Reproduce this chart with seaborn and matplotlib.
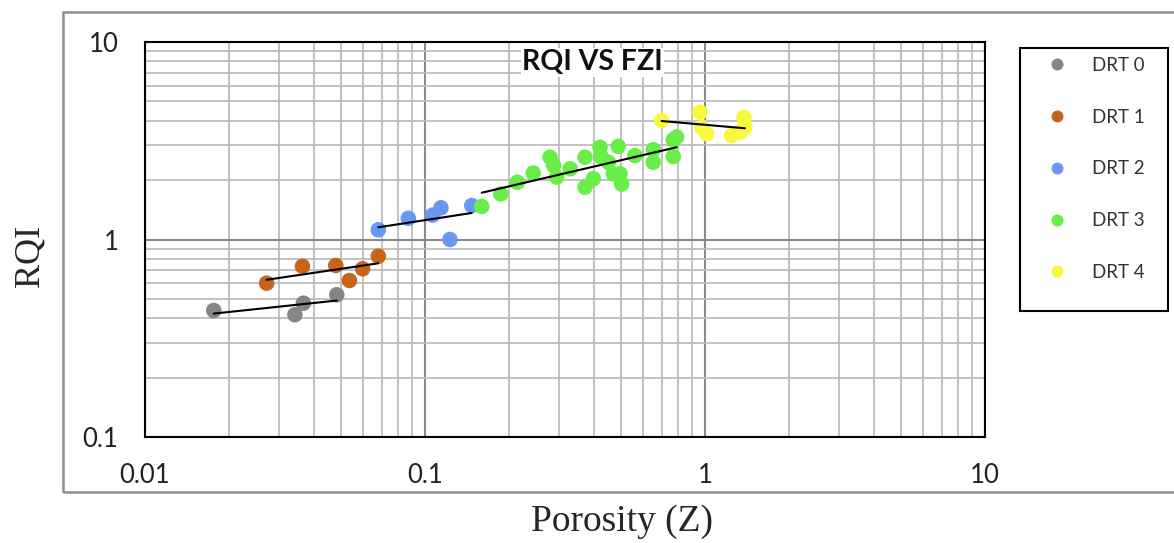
import matplotlib
matplotlib.use("Agg")
import matplotlib.pyplot as plt
from matplotlib.lines import Line2D
from matplotlib.patches import Rectangle
import matplotlib.ticker as mticker
import numpy as np
import pandas as pd
import seaborn as sns

# dados (Z, RQI) por grupo DRT
drt0_z = [0.0176, 0.0343, 0.0368, 0.0484]
drt0_rqi = [0.437, 0.416, 0.476, 0.525]

drt1_z = [0.0272, 0.0365, 0.048, 0.0537, 0.0599, 0.0681]
drt1_rqi = [0.601, 0.732, 0.739, 0.62, 0.711, 0.823]

drt2_z = [0.0681, 0.0872, 0.1065, 0.114, 0.1228, 0.1469]
drt2_rqi = [1.12, 1.28, 1.33, 1.447, 1.0, 1.486]

drt3_z = [0.1594, 0.1864, 0.2136, 0.2436, 0.2795, 0.288, 0.2954, 0.33,
          0.3727, 0.3727, 0.399, 0.4217, 0.425, 0.4515, 0.4706, 0.49,
          0.497, 0.504, 0.562, 0.6536, 0.6536, 0.77, 0.792, 0.77]
drt3_rqi = [1.47, 1.70, 1.95, 2.17, 2.61, 2.37, 2.07, 2.28,
            2.61, 1.84, 2.03, 2.93, 2.63, 2.46, 2.15, 2.96,
            2.15, 1.91, 2.66, 2.85, 2.46, 2.63, 3.30, 3.20]

drt4_z = [0.700, 0.96, 0.973, 1.014, 1.245, 1.334, 1.377, 1.388]
drt4_rqi = [4.0, 4.41, 3.70, 3.43, 3.36, 3.49, 4.16, 3.70]

grupos = ['DRT 0', 'DRT 1', 'DRT 2', 'DRT 3', 'DRT 4']
cores = ['#858585', '#C6641C', '#6A97F2', '#69EE47', '#F8F83E']

series = [(drt0_z, drt0_rqi), (drt1_z, drt1_rqi), (drt2_z, drt2_rqi),
          (drt3_z, drt3_rqi), (drt4_z, drt4_rqi)]

linhas = []
for g, (z, r) in zip(grupos, series):
    for zi, ri in zip(z, r):
        linhas.append({'DRT': g, 'Z': zi, 'RQI': ri})
df = pd.DataFrame(linhas)

sns.set_theme(style='white')
plt.rcParams['font.family'] = ['Lato', 'DejaVu Sans']

fig = plt.figure(figsize=(11.74, 5.43), dpi=100)
ax = fig.add_axes([145/1174, 1-437/543, 840/1174, 395/543])

ax.set_xscale('log')
ax.set_yscale('log')
ax.set_xlim(0.01, 10)
ax.set_ylim(0.1, 10)

# grade estilo excel
ax.xaxis.set_minor_locator(mticker.LogLocator(base=10, subs=np.arange(2, 10)))
ax.yaxis.set_minor_locator(mticker.LogLocator(base=10, subs=np.arange(2, 10)))
ax.xaxis.set_minor_formatter(mticker.NullFormatter())
ax.yaxis.set_minor_formatter(mticker.NullFormatter())
ax.grid(which='minor', color='#bdbdbd', lw=1.3)
ax.grid(which='major', color='#8a8a8a', lw=1.5)
ax.set_axisbelow(True)

sns.scatterplot(data=df, x='Z', y='RQI', hue='DRT', palette=dict(zip(grupos, cores)),
                s=125, linewidth=0, alpha=1, legend=False, ax=ax, zorder=3)

# linhas de tendencia (potencia)
for z, r in series:
    lz, lr = np.log10(z), np.log10(r)
    b, a = np.polyfit(lz, lr, 1)
    xs = np.array([min(lz), max(lz)])
    ax.plot(10**xs, 10**(a + b*xs), color='black', lw=1.5, zorder=4)

ax.xaxis.set_major_formatter(mticker.FuncFormatter(lambda v, p: f'{v:g}'))
ax.yaxis.set_major_formatter(mticker.FuncFormatter(lambda v, p: f'{v:g}'))
ax.tick_params(axis='both', which='both', length=0, labelsize=18.5, colors='#222222')
ax.tick_params(axis='x', pad=19)
ax.tick_params(axis='y', pad=19)
ax.set_xlabel('')
ax.set_ylabel('')
for s in ax.spines.values():
    s.set_color('black')
    s.set_linewidth(1.5)

ax.text(0.533, 0.949, 'RQI VS FZI', transform=ax.transAxes, ha='center', va='center',
        fontsize=20.5, fontweight='bold', color='#111111', zorder=5,
        bbox=dict(facecolor='white', edgecolor='none', pad=1))

fig.text(30/1174, 1-256/543, 'RQI', rotation=90, ha='center', va='center',
         fontsize=26, family=['Liberation Serif'])
fig.text(622/1174, 1-522/543, 'Porosity (Z)', ha='center', va='center',
         fontsize=27, family=['Liberation Serif'])

# moldura externa do grafico
fig.patches.append(Rectangle((63/1174, 1-492/543), (1190-63)/1174, 480/543,
                             transform=fig.transFigure, facecolor='none',
                             edgecolor='#8f8f8f', lw=1.8, zorder=0))
# caixa da legenda
fig.patches.append(Rectangle((1020/1174, 1-311/543), 148/1174, 263/543,
                             transform=fig.transFigure, facecolor='none',
                             edgecolor='black', lw=1.5, zorder=0))

handles = [Line2D([], [], marker='o', ls='none', markersize=8.6, color=c, markeredgewidth=0)
           for c in cores]
ax.legend(handles, grupos, loc='upper left', bbox_to_anchor=(1048/1174, 1-57/543),
          bbox_transform=fig.transFigure, frameon=False, borderpad=0, borderaxespad=0,
          handlelength=1, handletextpad=1.33, labelspacing=1.85, fontsize=13.5,
          labelcolor='#333333')

fig.savefig('out.png', dpi=100)
